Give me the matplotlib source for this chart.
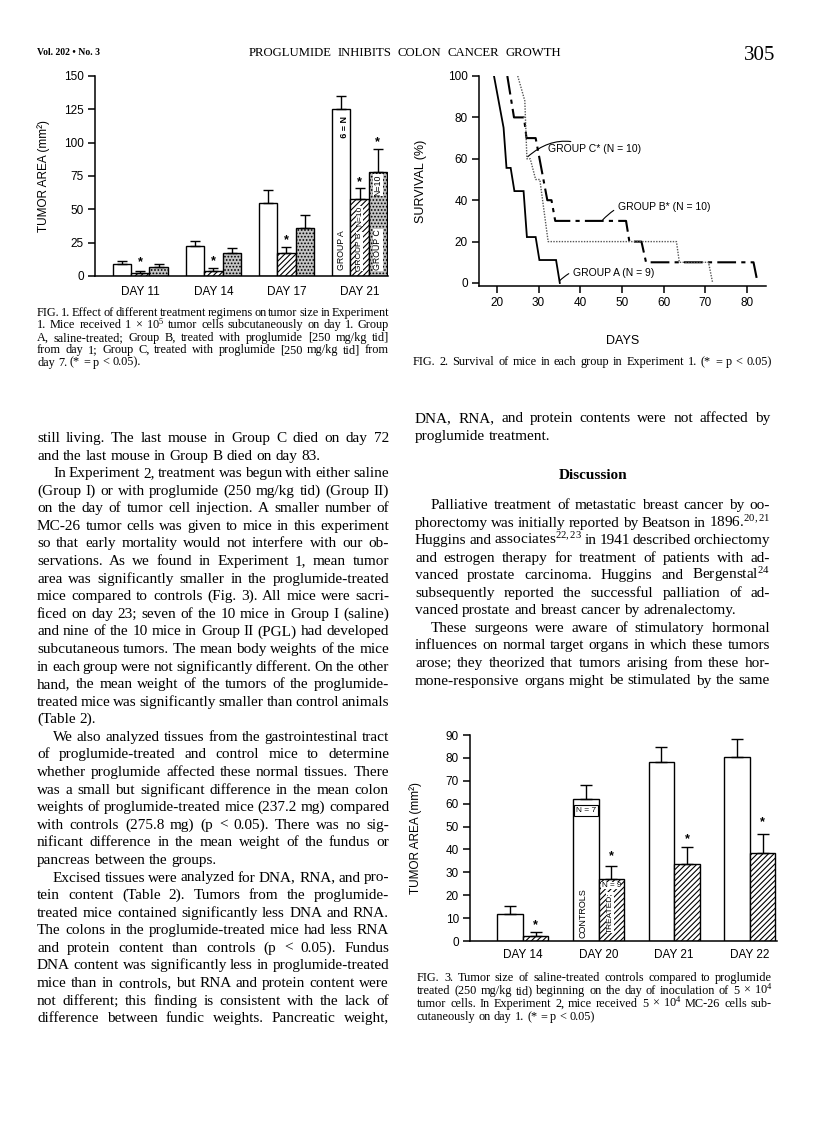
import matplotlib
matplotlib.use('Agg')
import matplotlib.pyplot as plt

plt.rcParams['mathtext.fontset'] = 'custom'
plt.rcParams['mathtext.rm'] = 'Liberation Serif'
plt.rcParams['mathtext.it'] = 'Liberation Serif:italic'
plt.rcParams['mathtext.bf'] = 'Liberation Serif:bold'
plt.rcParams['hatch.linewidth'] = 0.8
plt.rcParams['axes.linewidth'] = 1.1

W, H = 816, 1144
SANS = 'Liberation Sans'
SERIF = 'Liberation Serif'

# ---- Fig. 1 data: tumor area by group ----
days1 = ['DAY 11', 'DAY 14', 'DAY 17', 'DAY 21']
grp_a = [9, 22.5, 54.5, 125]
grp_a_err = [2.2, 3.8, 9.8, 10.3]
grp_b = [2.5, 4, 17, 57.5]
grp_b_err = [1.3, 2.2, 4.7, 8.2]
grp_c = [6.5, 17, 36.2, 78.2]
grp_c_err = [2.3, 4, 9.3, 17]
stars1_b = [10, 11, 27, 70]
star1_c_day21 = 100.5

# ---- Fig. 2 data: survival curves ----
a_days = [19.3, 21.6, 22.3, 23.3, 24.2, 26.4, 27.2, 29.3, 30.2, 34.2, 35.1]
a_surv = [100, 75, 55.6, 55.6, 44.4, 44.4, 22.2, 22.2, 11.1, 11.1, 0]
b_days = [22.5, 24.1, 26.5, 27.1, 29.3, 32.1, 33.1, 34, 51, 51.8, 54.7, 55.8, 81.6, 82.6]
b_surv = [100, 80, 80, 70, 70, 40, 40, 30, 30, 20, 20, 10, 10, 0]
c_days = [25, 26.7, 27.2, 28, 29.3, 30.3, 32.3, 63.1, 63.8, 70.8, 71.8]
c_surv = [100, 88, 60, 60, 50, 50, 20, 20, 10, 10, 0]

# ---- Fig. 3 data: controls vs treated ----
days3 = ['DAY 14', 'DAY 20', 'DAY 21', 'DAY 22']
controls = [12, 62, 78, 80.5]
controls_err = [3.2, 6.1, 6.6, 7.8]
treated = [2.3, 27, 33.6, 38.4]
treated_err = [1.5, 5.8, 7.6, 8.3]
stars3 = [7, 37.2, 44.5, 52]

# ---- page text ----
header_title = "PROGLUMIDE INHIBITS COLON CANCER GROWTH"
cap1 = [
    "FIG. 1. Effect of different treatment regimens on tumor size in Experiment",
    "1. Mice received 1 × 10$^5$ tumor cells subcutaneously on day 1. Group",
    "A, saline-treated; Group B, treated with proglumide [250 mg/kg tid]",
    "from day 1; Group C, treated with proglumide [250 mg/kg tid] from",
    "day 7. (* = p < 0.05).",
]
cap2 = "FIG. 2. Survival of mice in each group in Experiment 1. (* = p < 0.05)"
cap3 = [
    "FIG. 3. Tumor size of saline-treated controls compared to proglumide",
    "treated (250 mg/kg tid) beginning on the day of inoculation of 5 × 10$^4$",
    "tumor cells. In Experiment 2, mice received 5 × 10$^4$ MC-26 cells sub-",
    "cutaneously on day 1. (* = p < 0.05)",
]
left_lines = [
    "still living. The last mouse in Group C died on day 72",
    "and the last mouse in Group B died on day 83.",
    "In Experiment 2, treatment was begun with either saline",
    "(Group I) or with proglumide (250 mg/kg tid) (Group II)",
    "on the day of tumor cell injection. A smaller number of",
    "MC-26 tumor cells was given to mice in this experiment",
    "so that early mortality would not interfere with our ob-",
    "servations. As we found in Experiment 1, mean tumor",
    "area was significantly smaller in the proglumide-treated",
    "mice compared to controls (Fig. 3). All mice were sacri-",
    "ficed on day 23; seven of the 10 mice in Group I (saline)",
    "and nine of the 10 mice in Group II (PGL) had developed",
    "subcutaneous tumors. The mean body weights of the mice",
    "in each group were not significantly different. On the other",
    "hand, the mean weight of the tumors of the proglumide-",
    "treated mice was significantly smaller than control animals",
    "(Table 2).",
    "We also analyzed tissues from the gastrointestinal tract",
    "of proglumide-treated and control mice to determine",
    "whether proglumide affected these normal tissues. There",
    "was a small but significant difference in the mean colon",
    "weights of proglumide-treated mice (237.2 mg) compared",
    "with controls (275.8 mg) (p < 0.05). There was no sig-",
    "nificant difference in the mean weight of the fundus or",
    "pancreas between the groups.",
    "Excised tissues were analyzed for DNA, RNA, and pro-",
    "tein content (Table 2). Tumors from the proglumide-",
    "treated mice contained significantly less DNA and RNA.",
    "The colons in the proglumide-treated mice had less RNA",
    "and protein content than controls (p < 0.05). Fundus",
    "DNA content was significantly less in proglumide-treated",
    "mice than in controls, but RNA and protein content were",
    "not different; this finding is consistent with the lack of",
    "difference between fundic weights. Pancreatic weight,",
]
left_indent = {2, 17, 25}
left_last = {1, 16, 24}
right_top = [
    "DNA, RNA, and protein contents were not affected by",
    "proglumide treatment.",
]
right_lines = [
    "Palliative treatment of metastatic breast cancer by oo-",
    "phorectomy was initially reported by Beatson in 1896.$^{20,21}$",
    "Huggins and associates$^{22,23}$ in 1941 described orchiectomy",
    "and estrogen therapy for treatment of patients with ad-",
    "vanced prostate carcinoma. Huggins and Bergenstal$^{24}$",
    "subsequently reported the successful palliation of ad-",
    "vanced prostate and breast cancer by adrenalectomy.",
    "These surgeons were aware of stimulatory hormonal",
    "influences on normal target organs in which these tumors",
    "arose; they theorized that tumors arising from these hor-",
    "mone-responsive organs might be stimulated by the same",
]
right_indent = {0, 7}
right_last = {6}

fig = plt.figure(figsize=(W / 100, H / 100), dpi=100)
fig.patch.set_facecolor('white')
renderer = fig.canvas.get_renderer()


def fx(x):
    return x / W


def fy(y):
    return 1 - y / H


def put_line(s, x0, x1, y, size, justify=True, family=SERIF, weight='normal'):
    # one printed line, words spread to fill the column width
    words = s.split()
    objs = [fig.text(0, fy(y), w, fontsize=size, family=family, weight=weight,
                     va='baseline', ha='left') for w in words]
    widths = [o.get_window_extent(renderer).width for o in objs]
    space = size * 100 / 72 * 0.25
    if justify and len(words) > 1:
        gap = (x1 - x0 - sum(widths)) / (len(words) - 1)
        if gap < space * 0.4:
            for o in objs:
                o.remove()
            return put_line(s, x0, x1, y, size * 0.98, justify, family, weight)
    else:
        gap = space
    x = x0
    for o, w in zip(objs, widths):
        o.set_x(fx(x))
        x += w + gap


def add_ax(left, right, top, bottom):
    return fig.add_axes([fx(left), fy(bottom), (right - left) / W, (bottom - top) / H])


def style_ax(ax):
    ax.spines['top'].set_visible(False)
    ax.spines['right'].set_visible(False)
    ax.tick_params(axis='both', direction='out', length=5, width=1.1, labelsize=8.5, pad=3)
    for lab in ax.get_xticklabels() + ax.get_yticklabels():
        lab.set_family(SANS)


# ---- header ----
fig.text(fx(37), fy(55), "Vol. 202 • No. 3", fontsize=7, family=SERIF, weight='bold', va='baseline')
put_line(header_title, 249, 561, 56, 9.2)
fig.text(fx(775), fy(60), "305", fontsize=15, family=SERIF, ha='right', va='baseline')

# ---- Fig. 1 ----
ax1 = add_ax(95, 388, 76, 276)
x1 = list(range(len(days1)))
bw = 0.25
xa = [x - bw for x in x1]
xc = [x + bw for x in x1]
ax1.bar(xa, grp_a, bw, color='white', edgecolor='black', lw=1)
ax1.bar(x1, grp_b, bw, color='white', edgecolor='black', lw=1, hatch='//////')
ax1.bar(xc, grp_c, bw, color='#c4c4c4', edgecolor='black', lw=1, hatch='.....')
ax1.errorbar(xa, grp_a, yerr=[[0] * 4, grp_a_err], fmt='none', ecolor='black', elinewidth=1, capsize=3.5, capthick=1)
ax1.errorbar(x1, grp_b, yerr=[[0] * 4, grp_b_err], fmt='none', ecolor='black', elinewidth=1, capsize=3.5, capthick=1)
ax1.errorbar(xc, grp_c, yerr=[[0] * 4, grp_c_err], fmt='none', ecolor='black', elinewidth=1, capsize=3.5, capthick=1)
for x, s in zip(x1, stars1_b):
    ax1.text(x, s, '*', ha='center', va='center', fontsize=9, family=SANS, weight='bold')
ax1.text(xc[3], star1_c_day21, '*', ha='center', va='center', fontsize=9, family=SANS, weight='bold')
ax1.text(xa[3], 112, 'N = 9', rotation=-90, ha='center', va='center', fontsize=6.5, family=SANS, weight='bold')
ax1.text(xa[3], 19.5, 'GROUP A', rotation=90, ha='center', va='center', fontsize=6.3, family=SANS)
wbox = dict(facecolor='white', edgecolor='none', pad=0.2)
ax1.text(x1[3], 18.5, 'GROUP B', rotation=90, ha='center', va='center', fontsize=6, family=SANS, bbox=wbox)
ax1.text(x1[3], 45, 'N=10', rotation=90, ha='center', va='center', fontsize=6, family=SANS, bbox=wbox)
ax1.text(xc[3], 19.5, 'GROUP C', rotation=90, ha='center', va='center', fontsize=6.3, family=SANS, bbox=wbox)
ax1.text(xc[3], 68, 'N=10', rotation=90, ha='center', va='center', fontsize=6.3, family=SANS, bbox=wbox)
ax1.set_xlim(-0.62, 3.39)
ax1.set_ylim(0, 150)
ax1.set_yticks([0, 25, 50, 75, 100, 125, 150])
ax1.set_xticks(x1)
ax1.set_xticklabels(days1)
style_ax(ax1)
ax1.tick_params(axis='x', length=0, pad=7)
ax1.set_ylabel('TUMOR AREA (mm²)', fontsize=8.5, family=SANS)
ax1.yaxis.set_label_coords(-0.155, 0.5)

# ---- Fig. 2 ----
ax2 = add_ax(479, 766, 76, 286)
ax2.plot(a_days, a_surv, color='black', lw=1.3, solid_joinstyle='miter')
ax2.plot(b_days, b_surv, color='black', lw=1.5, dashes=(9, 2.5, 2, 2.5))
ax2.plot(c_days, c_surv, color='#555555', lw=1.0, ls=(0, (1, 1)))
ax2.set_xlim(15.7, 84.6)
ax2.set_ylim(-1.45, 100)
ax2.set_xticks([20, 30, 40, 50, 60, 70, 80])
ax2.set_yticks([0, 20, 40, 60, 80, 100])
style_ax(ax2)
arrow = dict(arrowstyle='-', color='black', lw=0.8, shrinkA=1, shrinkB=0)
ax2.annotate('GROUP C* (N = 10)', xy=(27.4, 61), xytext=(32.2, 64.5), fontsize=7.5, family=SANS,
             va='center', ha='left', arrowprops=dict(arrow, connectionstyle='arc3,rad=0.35'))
ax2.annotate('GROUP B* (N = 10)', xy=(45.4, 30.5), xytext=(49, 36.5), fontsize=7.5, family=SANS,
             va='center', ha='left', arrowprops=dict(arrow, connectionstyle='arc3,rad=0.35'))
ax2.annotate('GROUP A (N = 9)', xy=(35.0, 1), xytext=(38.2, 4.8), fontsize=7.5, family=SANS,
             va='center', ha='left', arrowprops=dict(arrow, connectionstyle='arc3,rad=0.35'))
ax2.set_ylabel('SURVIVAL (%)', fontsize=9, family=SANS)
ax2.yaxis.set_label_coords(-0.181, 0.5)
ax2.set_xlabel('DAYS', fontsize=9, family=SANS)
ax2.xaxis.set_label_coords(0.502, -0.233)

# ---- Fig. 3 ----
ax3 = add_ax(470, 777, 735, 941)
x3 = list(range(len(days3)))
bw3 = 0.337
xl = [x - bw3 / 2 for x in x3]
xr = [x + bw3 / 2 for x in x3]
ax3.bar(xl, controls, bw3, color='white', edgecolor='black', lw=1)
ax3.bar(xr, treated, bw3, color='white', edgecolor='black', lw=1, hatch='//////')
ax3.errorbar(xl, controls, yerr=[[0] * 4, controls_err], fmt='none', ecolor='black', elinewidth=1, capsize=4, capthick=1)
ax3.errorbar(xr, treated, yerr=[[0] * 4, treated_err], fmt='none', ecolor='black', elinewidth=1, capsize=4, capthick=1)
for x, s in zip(xr, stars3):
    ax3.text(x, s, '*', ha='center', va='center', fontsize=9, family=SANS, weight='bold')
ax3.text(xl[1], 57, 'N = 7', ha='center', va='center', fontsize=6, family=SANS,
         bbox=dict(facecolor='white', edgecolor='black', lw=0.8, pad=1.5))
ax3.text(xl[1] - 0.04, 12.2, 'CONTROLS', rotation=90, ha='center', va='center', fontsize=6.5, family=SANS)
ax3.text(xr[1] - 0.02, 12.5, 'TREATED;', rotation=90, ha='center', va='center', fontsize=6, family=SANS, bbox=wbox)
ax3.text(xr[1], 24.2, 'N = 9', ha='center', va='center', fontsize=5.8, family=SANS, bbox=wbox)
ax3.set_xlim(-0.70, 3.36)
ax3.set_ylim(0, 90)
ax3.set_yticks(range(0, 91, 10))
ax3.set_xticks(x3)
ax3.set_xticklabels(days3)
style_ax(ax3)
ax3.tick_params(axis='x', length=0, pad=6)
ax3.set_ylabel('TUMOR AREA (mm²)', fontsize=8.5, family=SANS)
ax3.yaxis.set_label_coords(-0.156, 0.5)

# ---- captions ----
for i, s in enumerate(cap1):
    put_line(s, 37, 389, 316 + i * 12.4, 8.8, justify=(i != len(cap1) - 1))
put_line(cap2, 413, 772, 365, 8.8, justify=True)
for i, s in enumerate(cap3):
    put_line(s, 417, 772, 981 + i * 13, 8.8, justify=(i != len(cap3) - 1))

# ---- body text ----
for i, s in enumerate(left_lines):
    xs = 37 + (16 if i in left_indent else 0)
    put_line(s, xs, 389, 442 + i * 17.58, 11, justify=(i not in left_last))
for i, s in enumerate(right_top):
    put_line(s, 415, 770, 422 + i * 17.58, 11, justify=(i != 1))
fig.text(fx(593), fy(479), 'Discussion', fontsize=11, family=SERIF, weight='bold', ha='center', va='baseline')
for i, s in enumerate(right_lines):
    xs = 415 + (16 if i in right_indent else 0)
    put_line(s, xs, 770, 509 + i * 17.55, 11, justify=(i not in right_last))

fig.savefig('out.png', dpi=100)
